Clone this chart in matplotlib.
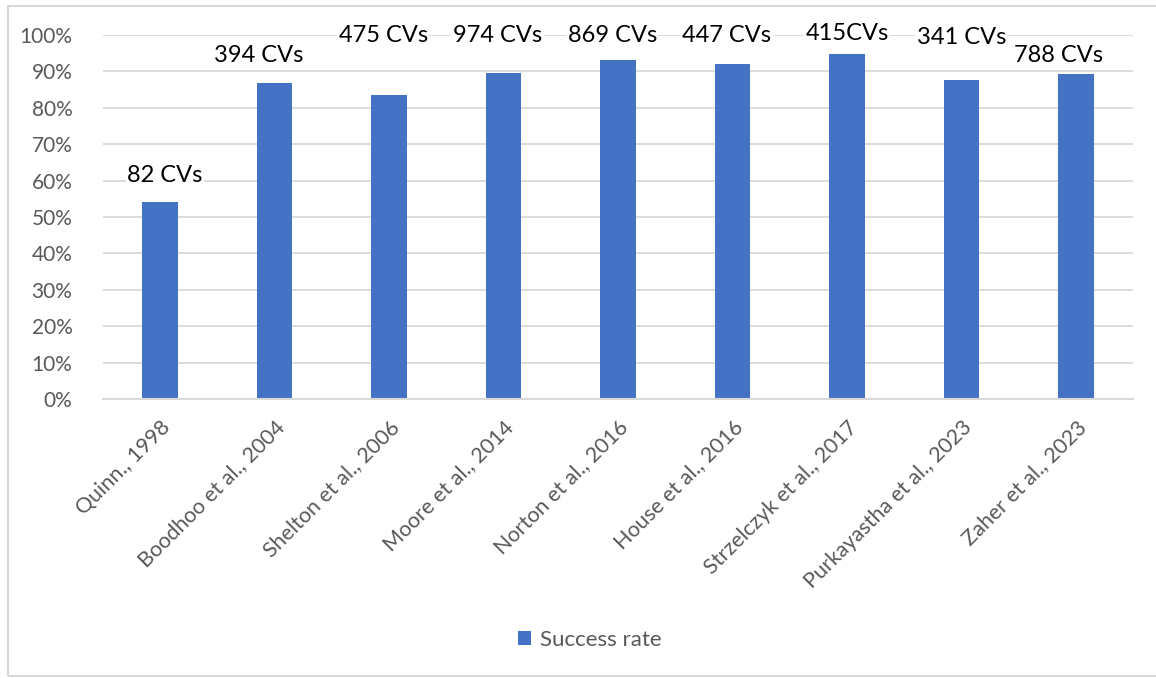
import matplotlib.pyplot as plt
from matplotlib.patches import Rectangle
from matplotlib.ticker import PercentFormatter
import numpy as np

plt.rcParams['font.family'] = ['Lato', 'DejaVu Sans']

studies = ['Quinn., 1998', 'Boodhoo et al., 2004', 'Shelton et al., 2006',
           'Moore et al., 2014', 'Norton et al., 2016', 'House et al., 2016',
           'Strzelczyk et al., 2017', 'Purkayastha et al., 2023', 'Zaher et al., 2023']
success = [0.54, 0.868, 0.836, 0.896, 0.932, 0.92, 0.949, 0.876, 0.894]
cv_labels = ['82 CVs', '394 CVs', '475 CVs', '974 CVs', '869 CVs', '447 CVs',
             '415CVs', '341 CVs', '788 CVs']

# where the text boxes sit (x offset from bar centre, y in axis units)
lab_dx = [0.04, -0.14, -0.05, -0.05, -0.05, -0.05, 0.0, 0.0, -0.15]
lab_y = [0.615, 0.945, 1.0, 1.0, 1.0, 1.0, 1.005, 0.992, 0.945]

fig = plt.figure(figsize=(11.56, 6.78), dpi=100)
fig.patches.append(Rectangle((8/1156, 2/678), 1.2, 670/678, transform=fig.transFigure,
                             fill=False, edgecolor='#D9D9D9', lw=1.5, zorder=0))
ax = fig.add_axes([103/1156, 1 - 399/678, 1030/1156, 364/678])

x = np.arange(len(studies))
ax.bar(x, success, width=0.31, color='#4472C4', label='Success rate', zorder=2)

for i in range(len(studies)):
    ax.text(x[i] + lab_dx[i], lab_y[i], cv_labels[i], ha='center', va='center',
            fontsize=17, color='black', zorder=4, clip_on=False,
            bbox=dict(facecolor='white', edgecolor='none', pad=1))

ax.set_xlim(-0.5, len(studies) - 0.5)
ax.set_ylim(0, 1)
ax.set_yticks(np.arange(0, 1.01, 0.1))
ax.yaxis.set_major_formatter(PercentFormatter(1.0, decimals=0))
ax.grid(axis='y', color='#D9D9D9', lw=1.3, zorder=0)
ax.set_axisbelow(True)
for s in ['top', 'right', 'left']:
    ax.spines[s].set_visible(False)
ax.spines['bottom'].set_color('#D9D9D9')
ax.spines['bottom'].set_linewidth(1.5)
ax.tick_params(axis='both', length=0, colors='#595959', labelsize=15)
ax.tick_params(axis='y', pad=22)
ax.set_xticks(x)
ax.set_xticklabels(studies, rotation=45, ha='right', va='top', rotation_mode='anchor',
                   fontsize=15.5)
ax.tick_params(axis='x', pad=13)

fig.legend(loc='center', bbox_to_anchor=(590/1156, 1 - 640/678), frameon=False,
           fontsize=16, labelcolor='#595959', handlelength=0.6, handleheight=0.6,
           handletextpad=0.4)

plt.savefig('out.png')
